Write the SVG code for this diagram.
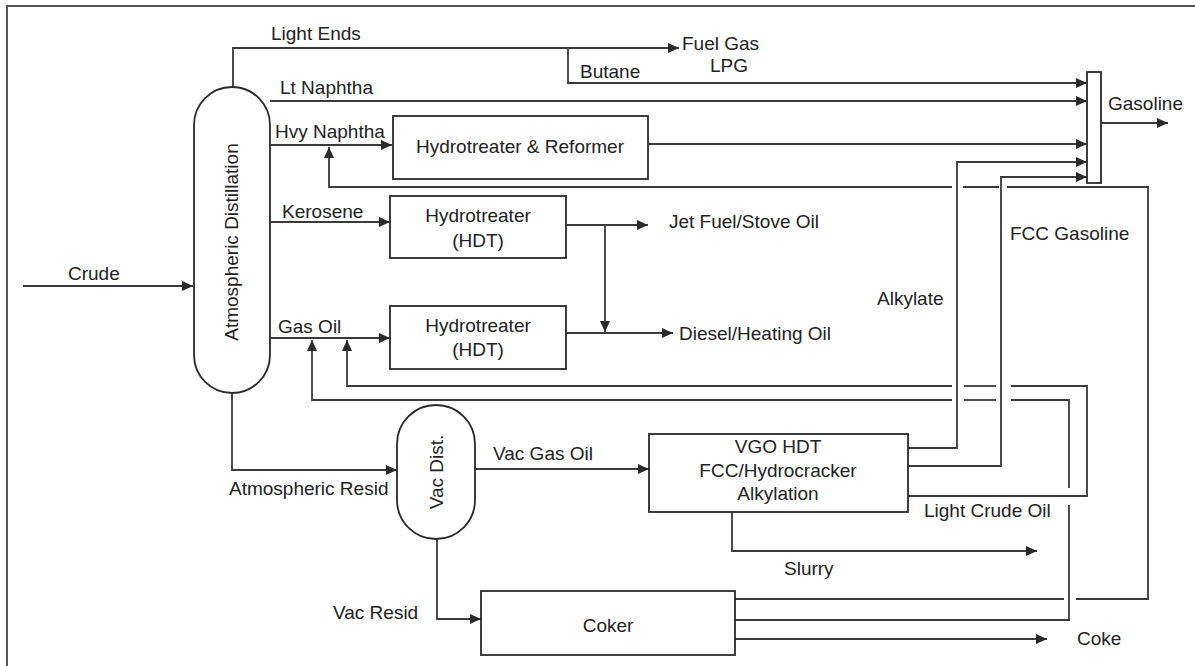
<svg xmlns="http://www.w3.org/2000/svg" width="1195" height="666" viewBox="0 0 1195 666">
<defs>
<marker id="arr" markerUnits="userSpaceOnUse" markerWidth="11" markerHeight="10" refX="11" refY="5" orient="auto">
<path d="M0,0 L11,5 L0,10 z" fill="#2a2a2a"/>
</marker>
<style>
.n{fill:#fff;stroke:#2a2a2a;stroke-width:1.8}
.c{fill:none;stroke:#3a3a3a;stroke-width:1.8}
.a{marker-end:url(#arr)}
text{font-family:"Liberation Sans",Arial,sans-serif;font-size:19px;fill:#222}
.m{text-anchor:middle}
</style>
</defs>
<rect width="1195" height="666" fill="#fff"/>
<path d="M7,666 V6 H1195" fill="none" stroke="#555" stroke-width="2"/>

<g id="connectors">
<path class="c a" d="M23,286 H193"/>
<path class="c a" d="M233,87 V48 H679"/>
<path class="c a" d="M568,48 V83 H1087"/>
<path class="c a" d="M270,101 H1087"/>
<path class="c a" d="M270,145 H392"/>
<path class="c a" d="M648,144 H1087"/>
<path class="c" d="M735,599 H1064"/>
<path class="c" d="M1076,599 H1148 V187 H1007"/>
<path class="c" d="M999,187 H963"/>
<path class="c a" d="M952,187 H329 V147"/>
<path class="c a" d="M270,222 H390"/>
<path class="c a" d="M566,225 H648"/>
<path class="c a" d="M605,225 V332"/>
<path class="c a" d="M270,338 H390"/>
<path class="c a" d="M566,333 H673"/>
<path class="c" d="M908,496 H1087 V386 H1011"/>
<path class="c" d="M996,386 H964"/>
<path class="c a" d="M952,386 H347 V340"/>
<path class="c" d="M735,620 H1069 V505"/>
<path class="c" d="M1069,488 V400 H1011"/>
<path class="c" d="M996,400 H964"/>
<path class="c a" d="M952,400 H312 V340"/>
<path class="c a" d="M735,639 H1047"/>
<path class="c a" d="M908,448 H957 V162 H1087"/>
<path class="c a" d="M908,466 H1001 V177 H1087"/>
<path class="c a" d="M1101,123 H1168"/>
<path class="c a" d="M232,393 V470 H397"/>
<path class="c a" d="M475,469 H649"/>
<path class="c a" d="M437,539 V619 H481"/>
<path class="c a" d="M732,512 V551 H1037"/>
</g>

<g id="atmospheric-distillation">
<rect class="n" x="194" y="87" width="76" height="306" rx="38" ry="38"/>
<text class="m" transform="translate(238,242) rotate(-90)">Atmospheric Distillation</text>
</g>
<g id="hydrotreater-reformer">
<rect class="n" x="393" y="116" width="255" height="63"/>
<text class="m" x="520" y="153">Hydrotreater &amp; Reformer</text>
</g>
<g id="hdt-kerosene">
<rect class="n" x="390" y="196" width="176" height="62"/>
<text class="m" x="478" y="222">Hydrotreater</text>
<text class="m" x="478" y="247">(HDT)</text>
</g>
<g id="hdt-gasoil">
<rect class="n" x="390" y="306" width="176" height="63"/>
<text class="m" x="478" y="332">Hydrotreater</text>
<text class="m" x="478" y="356">(HDT)</text>
</g>
<g id="vac-dist">
<rect class="n" x="397" y="405" width="78" height="134" rx="39" ry="39"/>
<text class="m" transform="translate(443,472) rotate(-90)">Vac Dist.</text>
</g>
<g id="vgo-fcc">
<rect class="n" x="649" y="434" width="259" height="78"/>
<text class="m" x="778" y="453">VGO HDT</text>
<text class="m" x="778" y="477">FCC/Hydrocracker</text>
<text class="m" x="778" y="500">Alkylation</text>
</g>
<g id="coker">
<rect class="n" x="481" y="591" width="254" height="64"/>
<text class="m" x="608" y="632">Coker</text>
</g>
<g id="gasoline-pool">
<rect class="n" x="1087" y="72" width="14" height="111"/>
</g>

<g id="labels">
<text x="68" y="280">Crude</text>
<text x="271" y="40">Light Ends</text>
<text x="682" y="50">Fuel Gas</text>
<text x="710" y="72">LPG</text>
<text x="580" y="78">Butane</text>
<text x="280" y="94">Lt Naphtha</text>
<text x="275" y="138">Hvy Naphtha</text>
<text x="1108" y="110">Gasoline</text>
<text x="282" y="218">Kerosene</text>
<text x="669" y="228">Jet Fuel/Stove Oil</text>
<text x="278" y="333">Gas Oil</text>
<text x="679" y="340">Diesel/Heating Oil</text>
<text x="1010" y="240">FCC Gasoline</text>
<text x="877" y="305">Alkylate</text>
<text x="229" y="495">Atmospheric Resid</text>
<text x="493" y="460">Vac Gas Oil</text>
<text x="924" y="517">Light Crude Oil</text>
<text x="784" y="575">Slurry</text>
<text x="333" y="619">Vac Resid</text>
<text x="1077" y="645">Coke</text>
</g>
</svg>
